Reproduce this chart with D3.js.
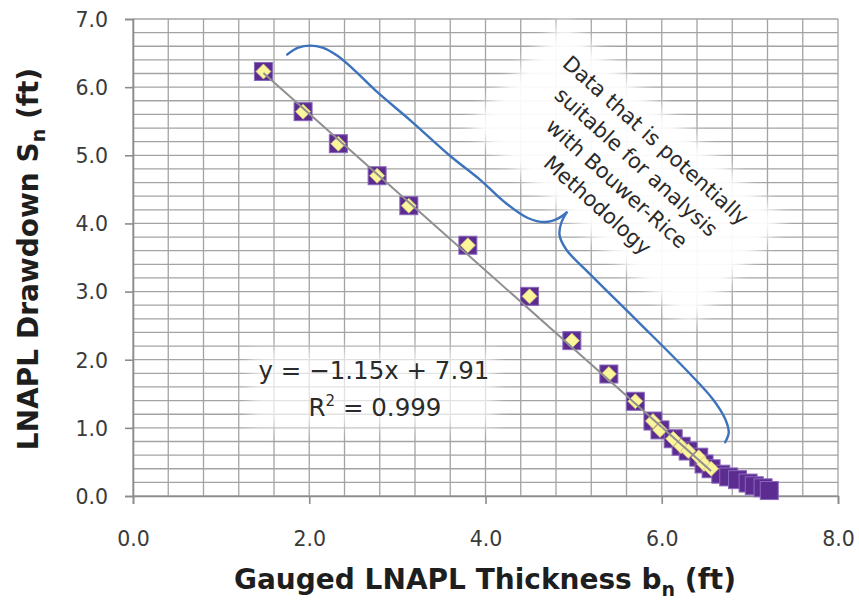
<!DOCTYPE html>
<html>
<head>
<meta charset="utf-8">
<script src="https://cdn.jsdelivr.net/npm/d3@7"></script>
<style>
  body { margin: 0; background: #fff; }
  svg { display: block; font-family: "DejaVu Sans", Verdana, sans-serif; }
</style>
</head>
<body>
<svg id="chart" width="859" height="602"></svg>
<script>
// Gauged thickness b_n vs drawdown S_n (ft).
// First set = points used in the Bouwer-Rice fit (square + diamond),
// second set = late-time points (plain square).
var fitThickness = [1.48, 1.93, 2.33, 2.77, 3.13, 3.80, 4.50, 4.98, 5.40, 5.70,
                    5.90, 5.98, 6.13, 6.22, 6.30, 6.42, 6.48, 6.56];
var fitDrawdown  = [6.23, 5.64, 5.17, 4.70, 4.26, 3.68, 2.93, 2.28, 1.79, 1.39,
                    1.10, 0.97, 0.84, 0.73, 0.66, 0.57, 0.47, 0.40];
var lateThickness = [6.67, 6.76, 6.86, 6.98, 7.05, 7.15, 7.22];
var lateDrawdown  = [0.32, 0.28, 0.24, 0.19, 0.15, 0.12, 0.08];

var xTicks = [0, 2, 4, 6, 8];
var yTicks = [0, 1, 2, 3, 4, 5, 6, 7];
var xGridStep = 0.4, yGridStep = 0.2;

// linear trendline shown on the chart
var trendSlope = -1.15, trendIntercept = 7.91;
var equationLines = ["y = \u22121.15x + 7.91", "R\u00b2 = 0.999"];

// curly brace, in data units (upper arm ends at the cusp, lower arm starts there)
var braceUpper = [[1.75, 6.48], [1.875, 6.58], [2.01, 6.61], [2.15, 6.58], [2.32, 6.46],
                  [2.52, 6.24], [2.77, 5.93], [3.15, 5.51], [3.60, 4.99], [3.94, 4.64],
                  [4.21, 4.32], [4.48, 4.08], [4.68, 4.02], [4.82, 4.07], [4.92, 4.16]];
var braceLower = [[4.92, 4.16], [4.86, 4.01], [4.84, 3.83], [4.92, 3.61], [5.16, 3.29],
                  [5.73, 2.56], [6.30, 1.82], [6.58, 1.42], [6.72, 1.13], [6.76, 0.93],
                  [6.72, 0.79]];
var noteLines = ["Data that is potentially", "suitable for analysis", "with Bouwer-Rice", "Methodology"];
var noteAnchor = [5.60, 4.74];

var W = 859, H = 602;
var m = { left: 133, right: 21, top: 19, bottom: 106 };
var svg = d3.select('#chart');
svg.append('rect').attr('width', W).attr('height', H).attr('fill', '#fff');

var x = d3.scaleLinear().domain([0, 8]).range([m.left, W - m.right]);
var y = d3.scaleLinear().domain([0, 7]).range([H - m.bottom, m.top]);

var defs = svg.append('defs');
defs.append('filter').attr('id', 'soft').attr('x', '-30%').attr('y', '-30%')
  .attr('width', '160%').attr('height', '160%')
  .append('feGaussianBlur').attr('stdDeviation', 7);

// grid
var grid = svg.append('g').attr('class', 'grid');
grid.selectAll('line.v').data(d3.range(0, 8 + 1e-6, xGridStep)).enter().append('line')
  .attr('x1', function (d) { return x(d); }).attr('x2', function (d) { return x(d); })
  .attr('y1', y(0)).attr('y2', y(7))
  .attr('stroke', '#a3a3a3').attr('stroke-width', 1.3);
grid.selectAll('line.h').data(d3.range(0, 7 + 1e-6, yGridStep)).enter().append('line')
  .attr('y1', function (d) { return y(d); }).attr('y2', function (d) { return y(d); })
  .attr('x1', x(0)).attr('x2', x(8))
  .attr('stroke', '#a3a3a3').attr('stroke-width', 1.3);

// axes
var xAxis = svg.append('g').attr('transform', 'translate(0,' + y(0) + ')')
  .call(d3.axisBottom(x).tickValues(xTicks).tickSize(8).tickPadding(27).tickFormat(d3.format('.1f')));
var yAxis = svg.append('g').attr('transform', 'translate(' + x(0) + ',0)')
  .call(d3.axisLeft(y).tickValues(yTicks).tickSize(8).tickPadding(17).tickFormat(d3.format('.1f')));
[xAxis, yAxis].forEach(function (a) {
  a.select('.domain').attr('stroke', '#8c8c8c').attr('stroke-width', 1.6);
  a.selectAll('.tick line').attr('stroke', '#8c8c8c').attr('stroke-width', 1.6);
  a.selectAll('.tick text').attr('fill', '#3a3a3a').style('font-size', '20.5px')
    .style('font-family', '"DejaVu Sans", Verdana, sans-serif');
});
yAxis.selectAll('.tick text').attr('dy', '0.36em');

// soft white backing behind the note and the equation
var noteX = x(noteAnchor[0]), noteY = y(noteAnchor[1]);
var noteAngle = 42;
svg.append('rect')
  .attr('transform', 'translate(' + noteX + ',' + noteY + ') rotate(' + noteAngle + ')')
  .attr('x', -150).attr('y', -72).attr('width', 300).attr('height', 144)
  .attr('fill', '#fff').attr('opacity', 0.95).attr('filter', 'url(#soft)');
svg.append('rect')
  .attr('x', 250).attr('y', 350).attr('width', 246).attr('height', 78)
  .attr('fill', '#fff').attr('opacity', 0.7).attr('filter', 'url(#soft)');

// markers
var allPts = fitThickness.map(function (b, i) { return { b: b, s: fitDrawdown[i], fit: true }; })
  .concat(lateThickness.map(function (b, i) { return { b: b, s: lateDrawdown[i], fit: false }; }));
var sq = 18, dm = 7.5;
var pts = svg.append('g').attr('class', 'points');
pts.selectAll('rect').data(allPts).enter().append('rect')
  .attr('x', function (d) { return x(d.b) - sq / 2; })
  .attr('y', function (d) { return y(d.s) - sq / 2; })
  .attr('width', sq).attr('height', sq)
  .attr('fill', '#5c2c90').attr('stroke', '#8a68bd').attr('stroke-width', 1);
pts.selectAll('path').data(allPts.filter(function (d) { return d.fit; })).enter().append('path')
  .attr('d', function (d) {
    var cx = x(d.b), cy = y(d.s);
    return 'M' + cx + ',' + (cy - dm) + 'L' + (cx + dm) + ',' + cy + 'L' + cx + ',' + (cy + dm) + 'L' + (cx - dm) + ',' + cy + 'Z';
  })
  .attr('fill', '#fbf59c').attr('stroke', '#c9c27a').attr('stroke-width', 0.8);

// trendline over the fitted range
var tr = d3.extent(fitThickness);
svg.append('line')
  .attr('x1', x(tr[0])).attr('y1', y(trendSlope * tr[0] + trendIntercept))
  .attr('x2', x(tr[1])).attr('y2', y(trendSlope * tr[1] + trendIntercept))
  .attr('stroke', '#8f8f8f').attr('stroke-width', 2);

// brace
var braceLine = d3.line().x(function (d) { return x(d[0]); }).y(function (d) { return y(d[1]); })
  .curve(d3.curveCatmullRom.alpha(0.5));
[braceUpper, braceLower].forEach(function (arm) {
  svg.append('path').attr('d', braceLine(arm))
    .attr('fill', 'none').attr('stroke', '#3d72bd').attr('stroke-width', 2.4)
    .attr('stroke-linecap', 'round');
});

// note text, rotated parallel to the data
var lh = 29;
var note = svg.append('text')
  .attr('transform', 'translate(' + noteX + ',' + noteY + ') rotate(' + noteAngle + ')')
  .attr('text-anchor', 'middle').attr('fill', '#2a2a2a').style('font-size', '21px');
noteLines.forEach(function (t, i) {
  note.append('tspan').attr('x', 0).attr('y', (i - (noteLines.length - 1) / 2) * lh + 7).text(t);
});

// equation
var eq = svg.append('text').attr('text-anchor', 'middle').attr('fill', '#2a2a2a')
  .style('font-size', '24.5px');
eq.append('tspan').attr('x', 374).attr('y', 379).text(equationLines[0]);
var r2 = eq.append('tspan').attr('x', 375).attr('y', 416);
r2.append('tspan').text('R');
r2.append('tspan').attr('dy', -10).style('font-size', '15px').text('2');
r2.append('tspan').attr('dy', 10).text(' = 0.999');

// axis titles
var xt = svg.append('text').attr('x', 485).attr('y', 589).attr('text-anchor', 'middle')
  .attr('fill', '#1e1e1e').style('font-size', '28px').style('font-weight', 'bold');
xt.append('tspan').text('Gauged LNAPL Thickness b');
xt.append('tspan').attr('dy', 7).style('font-size', '19px').text('n');
xt.append('tspan').attr('dy', -7).text(' (ft)');

var yt = svg.append('text').attr('transform', 'translate(38,259) rotate(-90)')
  .attr('text-anchor', 'middle').attr('fill', '#1e1e1e')
  .style('font-size', '28px').style('font-weight', 'bold');
yt.append('tspan').text('LNAPL Drawdown S');
yt.append('tspan').attr('dy', 7).style('font-size', '19px').text('n');
yt.append('tspan').attr('dy', -7).text(' (ft)');
</script>
</body>
</html>
